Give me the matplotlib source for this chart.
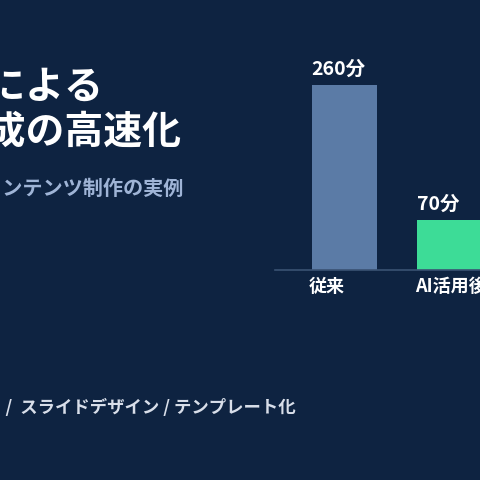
import matplotlib
matplotlib.use("Agg")
import matplotlib.pyplot as plt

plt.rcParams['font.family'] = ['Noto Sans CJK JP', 'DejaVu Sans']

# Datos del gráfico
categorias = ["従来", "AI活用後"]
minutos = [260, 70]
etiquetas = ["260分", "70分"]
colores = ["#5b7ba6", "#3ddc97"]

titulo1 = "生成AIによる"
titulo2 = "資料作成の高速化"
subtitulo = "AIを使ったコンテンツ制作の実例"
pie = "文章作成  /  スライドデザイン / テンプレート化"

fondo = "#0e2341"

fig = plt.figure(figsize=(4.8, 4.8), dpi=100, facecolor=fondo)

# Textos (alineados a la derecha, recortados por el borde izquierdo)
fig.text(104 / 480, 1 - 87 / 480, titulo1, ha="right", va="center",
         fontsize=28, fontweight="bold", color="white")
fig.text(182 / 480, 1 - 133 / 480, titulo2, ha="right", va="center",
         fontsize=28, fontweight="bold", color="white")
fig.text(183 / 480, 1 - 188 / 480, subtitulo, ha="right", va="center",
         fontsize=14.5, fontweight="bold", color="#9fb4d6")
fig.text(296 / 480, 1 - 408 / 480, pie, ha="right", va="center",
         fontsize=12.5, fontweight="bold", color="#d8dee9")

# Ejes del gráfico de barras
ax = fig.add_axes([275 / 480, 1 - 270 / 480, 205 / 480, 230 / 480])
ax.set_facecolor(fondo)
posiciones = [0, 1]
ax.bar(posiciones, minutos, width=0.615, align="edge", color=colores)
ax.set_xlim(-0.348, 1.593)
ax.set_ylim(0, 323)

for x, v, et in zip(posiciones, minutos, etiquetas):
    ax.annotate(et, (x, v), xytext=(0, 4.5), textcoords="offset points",
                ha="left", va="bottom", fontsize=14, fontweight="bold",
                color="white")
for x, cat in zip(posiciones, categorias):
    ax.annotate(cat, (x, 0), xytext=(-2, -5), textcoords="offset points",
                ha="left", va="top", fontsize=13, fontweight="bold",
                color="white", annotation_clip=False)

for s in ["top", "right", "left"]:
    ax.spines[s].set_visible(False)
ax.spines["bottom"].set_color("#3a5273")
ax.spines["bottom"].set_linewidth(1.2)
ax.set_xticks([])
ax.set_yticks([])

plt.savefig("out.png", dpi=100, facecolor=fondo)
